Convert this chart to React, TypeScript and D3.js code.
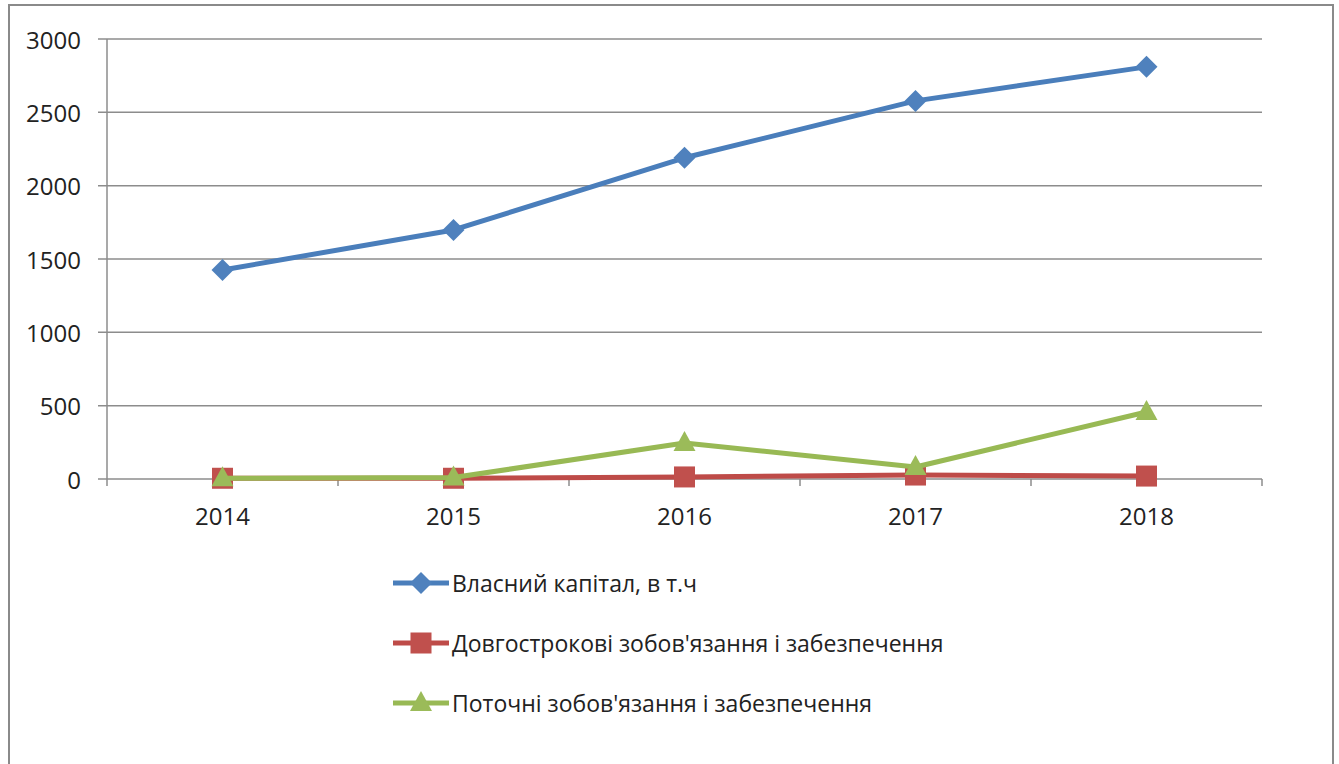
import React from "react";
import * as d3 from "d3";

const years = ["2014", "2015", "2016", "2017", "2018"];
const equity = [1425, 1698, 2190, 2578, 2810];
const longTerm = [5, 5, 14, 27, 20];
const current = [5, 10, 245, 82, 457];
const yTicks = [0, 500, 1000, 1500, 2000, 2500, 3000];
const seriesNames = [
  "Власний капітал, в т.ч",
  "Довгострокові зобов'язання і забезпечення",
  "Поточні зобов'язання і забезпечення",
];

const W = 1339;
const H = 764;
const FONT = "'Open Sans', sans-serif";

type Series = { name: string; values: number[]; line: string; fill: string; marker: "diamond" | "square" | "triangle" };

const series: Series[] = [
  { name: seriesNames[0], values: equity, line: "#4A7EBB", fill: "#4F81BD", marker: "diamond" },
  { name: seriesNames[1], values: longTerm, line: "#BE4B48", fill: "#C0504D", marker: "square" },
  { name: seriesNames[2], values: current, line: "#98B954", fill: "#9BBB59", marker: "triangle" },
];

function Marker({ kind, x, y, fill }: { kind: Series["marker"]; x: number; y: number; fill: string }) {
  if (kind === "diamond") {
    const r = 11;
    return <path d={`M${x},${y - r}L${x + r},${y}L${x},${y + r}L${x - r},${y}Z`} fill={fill} />;
  }
  if (kind === "square") {
    const s = 21;
    return <rect x={x - s / 2} y={y - s / 2} width={s} height={s} fill={fill} />;
  }
  const s = 22;
  return <path d={`M${x},${y - 12}L${x + s / 2},${y + 8}L${x - s / 2},${y + 8}Z`} fill={fill} />;
}

export default function App() {
  const left = 107;
  const right = 1262;
  const x = d3.scaleBand<string>().domain(years).range([left, right]);
  const y = d3.scaleLinear().domain([0, 3000]).range([479, 39]);
  const cx = (i: number) => (x(years[i]) as number) + x.bandwidth() / 2;
  const line = d3
    .line<number>()
    .x((_, i) => cx(i))
    .y((d) => y(d));

  const boundaries = d3.range(years.length + 1).map((i) => left + i * x.step());

  return (
    <div style={{ position: "absolute", left: 0, top: 0 }}>
      <svg width={W} height={H} style={{ display: "block", background: "#fff" }}>
        <rect x={9} y={5} width={1324} height={H + 10} fill="#fff" stroke="#8a8a8a" strokeWidth={2} />
        {/* horizontal gridlines with outward ticks */}
        {yTicks.map((t) => (
          <g key={t}>
            <line x1={98} x2={right} y1={y(t)} y2={y(t)} stroke="#8c8c8c" strokeWidth={1.5} />
            <text x={81} y={y(t)} textAnchor="end" dominantBaseline="central" fontFamily={FONT} fontSize={24} fill="#222">
              {t}
            </text>
          </g>
        ))}
        {/* value axis */}
        <line x1={left} x2={left} y1={y(3000)} y2={y(0)} stroke="#8c8c8c" strokeWidth={1.5} />
        {/* category ticks */}
        {boundaries.map((bx, i) => (
          <line key={i} x1={bx} x2={bx} y1={y(0)} y2={y(0) + 7} stroke="#8c8c8c" strokeWidth={1.5} />
        ))}
        {years.map((yr, i) => (
          <text
            key={yr}
            x={cx(i)}
            y={515}
            textAnchor="middle"
            dominantBaseline="central"
            fontFamily={FONT}
            fontSize={24}
            fill="#222"
          >
            {yr}
          </text>
        ))}
        {/* series */}
        {series.map((s) => (
          <g key={s.name}>
            <path d={line(s.values) as string} fill="none" stroke={s.line} strokeWidth={5} strokeLinejoin="round" />
            {s.values.map((v, i) => (
              <Marker key={i} kind={s.marker} x={cx(i)} y={y(v)} fill={s.fill} />
            ))}
          </g>
        ))}
        {/* legend */}
        {series.map((s, i) => {
          const ly = 583 + i * 60;
          return (
            <g key={s.name}>
              <line x1={393} x2={449} y1={ly} y2={ly} stroke={s.line} strokeWidth={5} />
              <Marker kind={s.marker} x={421} y={ly} fill={s.fill} />
              <text x={452} y={ly} dominantBaseline="central" fontFamily={FONT} fontSize={23} fill="#222">
                {s.name}
              </text>
            </g>
          );
        })}
      </svg>
    </div>
  );
}
